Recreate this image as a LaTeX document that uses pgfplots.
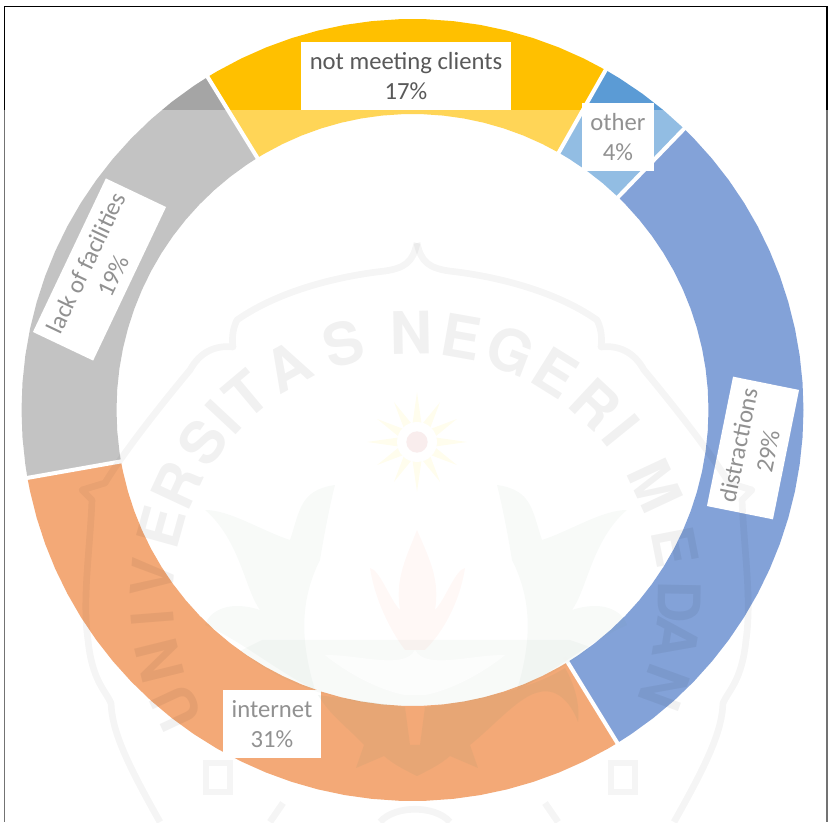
\documentclass[border=0pt]{standalone}
\usepackage{fontspec}
\setmainfont{Carlito}
\newfontfamily\wmfont{TeX Gyre Heros}
\usepackage{pgfplots}
\pgfplotsset{compat=1.18}
\definecolor{cOther}{HTML}{5B9BD5}
\definecolor{cDist}{HTML}{4472C4}
\definecolor{cNet}{HTML}{ED7D31}
\definecolor{cLack}{HTML}{A5A5A5}
\definecolor{cGold}{HTML}{FFC000}
\definecolor{tc}{HTML}{595959}
\definecolor{wmg}{HTML}{5F8B6A}
\tikzset{lab/.style={fill=white,inner sep=0pt,align=center,text=tc,font=\fontsize{18.5}{22.5}\selectfont}}
\begin{document}
\begin{tikzpicture}
\useasboundingbox (0,0) rectangle (621.75pt,616.5pt);
\clip (0,0) rectangle (621.75pt,616.5pt);
\begin{axis}[at={(0,0)},anchor=south west,scale only axis,width=621.75pt,height=616.5pt,
  xmin=-412.5,xmax=416.5,ymin=-412,ymax=410,hide axis]
% other 4%
\addplot[data cs=polar,fill=cOther,draw=none] coordinates {(46,391)(50,391)(54,391)(58,391)(60.4,391)
 (60.4,296)(58,296)(54,296)(50,296)(46,296)} --cycle;
% distractions 29%
\addplot[data cs=polar,fill=cDist,draw=none] coordinates {(-58.4,391)(-56,391)(-52,391)(-48,391)(-44,391)(-40,391)(-36,391)(-32,391)(-28,391)(-24,391)(-20,391)(-16,391)(-12,391)(-8,391)(-4,391)(0,391)(4,391)(8,391)(12,391)(16,391)(20,391)(24,391)(28,391)(32,391)(36,391)(40,391)(44,391)(46,391)
 (46,296)(44,296)(40,296)(36,296)(32,296)(28,296)(24,296)(20,296)(16,296)(12,296)(8,296)(4,296)(0,296)(-4,296)(-8,296)(-12,296)(-16,296)(-20,296)(-24,296)(-28,296)(-32,296)(-36,296)(-40,296)(-44,296)(-48,296)(-52,296)(-56,296)(-58.4,296)} --cycle;
% internet 31%
\addplot[data cs=polar,fill=cNet,draw=none] coordinates {(-170,391)(-168,391)(-164,391)(-160,391)(-156,391)(-152,391)(-148,391)(-144,391)(-140,391)(-136,391)(-132,391)(-128,391)(-124,391)(-120,391)(-116,391)(-112,391)(-108,391)(-104,391)(-100,391)(-96,391)(-92,391)(-88,391)(-84,391)(-80,391)(-76,391)(-72,391)(-68,391)(-64,391)(-60,391)(-58.4,391)
 (-58.4,296)(-60,296)(-64,296)(-68,296)(-72,296)(-76,296)(-80,296)(-84,296)(-88,296)(-92,296)(-96,296)(-100,296)(-104,296)(-108,296)(-112,296)(-116,296)(-120,296)(-124,296)(-128,296)(-132,296)(-136,296)(-140,296)(-144,296)(-148,296)(-152,296)(-156,296)(-160,296)(-164,296)(-168,296)(-170,296)} --cycle;
% lack of facilities 19%
\addplot[data cs=polar,fill=cLack,draw=none] coordinates {(121.6,391)(124,391)(128,391)(132,391)(136,391)(140,391)(144,391)(148,391)(152,391)(156,391)(160,391)(164,391)(168,391)(172,391)(176,391)(180,391)(184,391)(188,391)(190,391)
 (190,296)(188,296)(184,296)(180,296)(176,296)(172,296)(168,296)(164,296)(160,296)(156,296)(152,296)(148,296)(144,296)(140,296)(136,296)(132,296)(128,296)(124,296)(121.6,296)} --cycle;
% not meeting clients 17%
\addplot[data cs=polar,fill=cGold,draw=none] coordinates {(60.4,391)(64,391)(68,391)(72,391)(76,391)(80,391)(84,391)(88,391)(92,391)(96,391)(100,391)(104,391)(108,391)(112,391)(116,391)(120,391)(121.6,391)
 (121.6,296)(120,296)(116,296)(112,296)(108,296)(104,296)(100,296)(96,296)(92,296)(88,296)(84,296)(80,296)(76,296)(72,296)(68,296)(64,296)(60.4,296)} --cycle;
% slice separators
\addplot[data cs=polar,white,line width=3pt] coordinates {(46,290)(46,396)};
\addplot[data cs=polar,white,line width=3pt] coordinates {(-58.4,290)(-58.4,396)};
\addplot[data cs=polar,white,line width=3pt] coordinates {(-170,290)(-170,396)};
\addplot[data cs=polar,white,line width=3pt] coordinates {(121.6,290)(121.6,396)};
\addplot[data cs=polar,white,line width=3pt] coordinates {(60.4,290)(60.4,396)};
\end{axis}
\begin{scope}[x=0.75pt,y=-0.75pt,shift={(0,616.5pt)}]
% labels
\node[lab,minimum width=157.5pt,minimum height=51pt] at (406,76) {not meeting clients\\17\%};
\node[lab,minimum width=54pt,minimum height=51.5pt] at (618,137) {other\\4\%};
\node[lab,minimum width=73.5pt,minimum height=51pt] at (272,724) {internet\\31\%};
\node[lab,minimum width=127.5pt,minimum height=50pt,rotate=64.6] at (99.5,269.5) {lack of facilities\\19\%};
\node[lab,minimum width=99pt,minimum height=50.5pt,rotate=78.6] at (753,448) {distractions\\29\%};
% pale veil of the scanned page
\fill[white,opacity=.34] (0,110) rectangle (829,822);
% watermark: lettering
\begin{scope}[opacity=.055]
\foreach \a/\l in {205/U,194/N,184.5/I,175.7/V,164.5/E,155/R,144/S,137/I,130/T,119/A,106/S,91/N,80/E,69/G,58/E,47/R,39/I,25/M,11/E,-1/D,-9/A,-20/N}
  \node[inner sep=0pt,text=black,font=\wmfont\bfseries\fontsize{44}{44}\selectfont,rotate=\a-90]
    at ({416+264*cos(\a)},{597-264*sin(\a)}) {\l};
\end{scope}
% watermark: crest outline
\begin{scope}[opacity=.04]
\draw[black,line width=5pt,line join=round]
  (417,243) .. controls (413,262) and (405,268) .. (385,271) .. controls (340,276) and (280,290) .. (237,320)
  .. controls (232,330) and (232,340) .. (233,347) .. controls (215,345) and (200,352) .. (190,370)
  .. controls (165,400) and (125,450) .. (105,483) -- (82,490) -- (92,500)
  .. controls (90,550) and (82,600) .. (88,640) .. controls (92,680) and (105,690) .. (111,703)
  .. controls (112,730) and (125,760) .. (160,822);
\draw[black,line width=5pt,line join=round]
  (417,243) .. controls (421,262) and (429,268) .. (449,271) .. controls (494,276) and (554,290) .. (597,320)
  .. controls (602,330) and (602,340) .. (601,347) .. controls (619,345) and (634,352) .. (644,370)
  .. controls (669,400) and (709,450) .. (729,483) -- (752,490) -- (742,500)
  .. controls (744,550) and (752,600) .. (746,640) .. controls (742,680) and (729,690) .. (723,703)
  .. controls (722,730) and (709,760) .. (674,822);
\draw[black,line width=4pt] (206,763) rectangle (230,792) (611,763) rectangle (635,792);
\draw[black,line width=5pt] (283,803) -- (270,822) (545,803) -- (558,822);
\draw[black,line width=5pt] (380,822) .. controls (395,805) and (435,805) .. (450,822);
\end{scope}
% sun
\begin{scope}[opacity=.07]
\fill[yellow!90!orange] (417,442) +(0:50) -- +(15:18) -- +(30:46) -- +(45:18) -- +(60:46) -- +(75:18) -- +(90:50)
  -- +(105:18) -- +(120:46) -- +(135:18) -- +(150:46) -- +(165:18) -- +(180:50) -- +(195:18) -- +(210:46)
  -- +(225:18) -- +(240:46) -- +(255:18) -- +(270:50) -- +(285:18) -- +(300:46) -- +(315:18) -- +(330:46) -- +(345:18) -- cycle;
\end{scope}
\fill[white] (417,442) circle[radius=15pt];
\fill[red!50!gray,opacity=.09] (417,442) circle[radius=8pt];
% leaves
\begin{scope}[opacity=.045,fill=wmg]
\fill (335,485) .. controls (300,490) and (300,510) .. (290,540) .. controls (260,530) and (230,510) .. (205,510)
  .. controls (240,540) and (245,590) .. (260,610) .. controls (230,600) and (210,610) .. (205,625)
  .. controls (240,640) and (275,670) .. (315,690) .. controls (300,640) and (300,600) .. (320,560)
  .. controls (325,530) and (330,505) .. (335,485) -- cycle;
\fill (497,485) .. controls (532,490) and (532,510) .. (542,540) .. controls (572,530) and (602,510) .. (627,510)
  .. controls (592,540) and (587,590) .. (572,610) .. controls (602,600) and (622,610) .. (627,625)
  .. controls (592,640) and (557,670) .. (517,690) .. controls (532,640) and (532,600) .. (512,560)
  .. controls (507,530) and (502,505) .. (497,485) -- cycle;
% pale base of the crest, inside the ring
\fill (262,640) -- (570,640) -- (590,647) .. controls (540,690) and (470,706) .. (412,706)
   .. controls (350,706) and (290,690) .. (240,651) -- cycle;
\end{scope}
\fill[white,opacity=.75] (415,650) .. controls (425,670) and (470,655) .. (505,655) .. controls (480,675) and (450,690) .. (425,695)
  -- (405,695) .. controls (380,690) and (350,675) .. (325,655) .. controls (360,655) and (405,670) .. (415,650) -- cycle;
% lotus
\fill[red!60!orange,opacity=.035] (417,530) .. controls (430,560) and (440,580) .. (435,610) .. controls (445,600) and (455,570) .. (465,568)
  .. controls (460,600) and (445,630) .. (425,650) -- (405,650) .. controls (390,630) and (375,600) .. (370,568)
  .. controls (380,570) and (390,600) .. (400,610) .. controls (395,580) and (405,560) .. (417,530) -- cycle;
% crest on the orange slice
\begin{scope}[opacity=.08,fill=wmg]
\fill (425,707) .. controls (470,702) and (530,690) .. (565,668) .. controls (575,685) and (580,705) .. (578,722)
  .. controls (570,700) and (555,688) .. (540,692) .. controls (520,695) and (495,725) .. (470,745)
  -- (478,768) -- (450,756) .. controls (440,765) and (425,772) .. (417,776)
  .. controls (409,772) and (394,765) .. (384,756) -- (356,768) -- (364,745)
  .. controls (345,725) and (330,715) .. (318,695) -- (405,707) -- (410,745) -- (420,745) -- cycle;
\end{scope}
% frame
\draw[black,line width=1.4pt] (4.5,110) -- (4.5,6.5) -- (827,6.5) -- (827,110);
\draw[black!55,line width=1.4pt] (4.5,110) -- (4.5,822) (827,110) -- (827,822);
\end{scope}
\end{tikzpicture}
\end{document}
